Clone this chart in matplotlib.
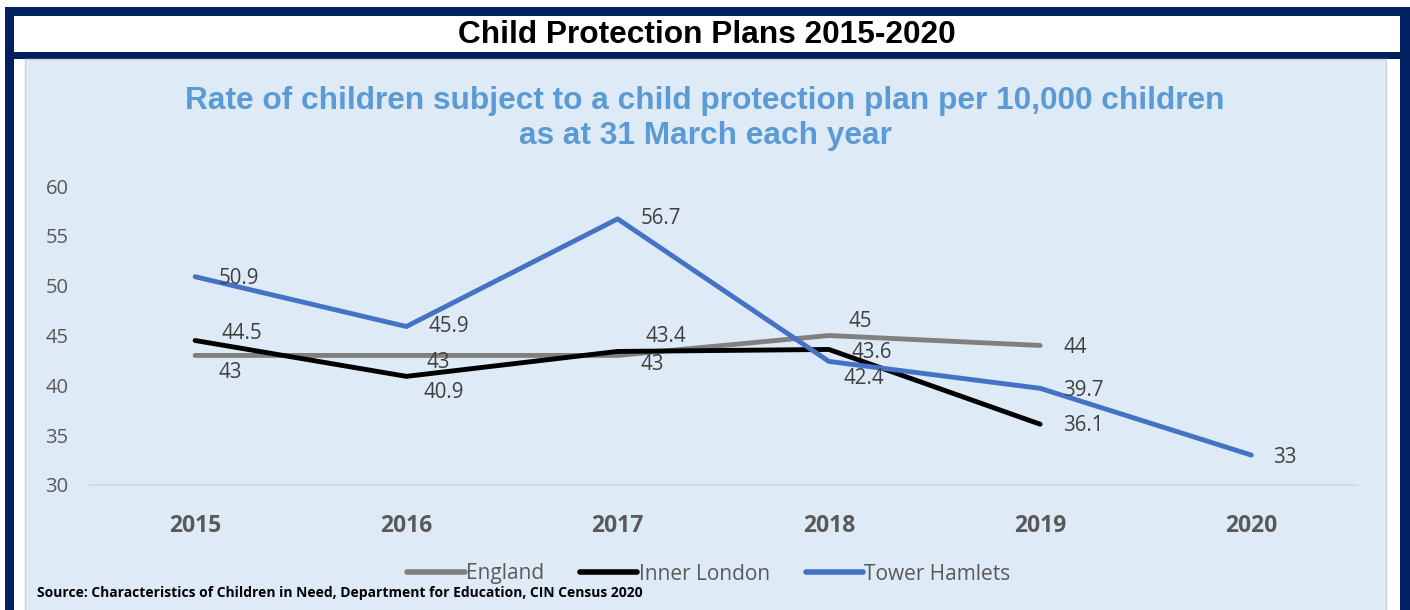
import matplotlib
matplotlib.use("Agg")
import matplotlib.pyplot as plt
from matplotlib.patches import Rectangle

# ---- data ----
years = ["2015", "2016", "2017", "2018", "2019", "2020"]
england = [43, 43, 43, 45, 44, None]
inner_london = [44.5, 40.9, 43.4, 43.6, 36.1, None]
tower_hamlets = [50.9, 45.9, 56.7, 42.4, 39.7, 33]
series_names = ["England", "Inner London", "Tower Hamlets"]
y_ticks = [30, 35, 40, 45, 50, 55, 60]

title = "Child Protection Plans 2015-2020"
subtitle_1 = "Rate of children subject to a child protection plan per 10,000 children"
subtitle_2 = "as at 31 March each year"
source = "Source: Characteristics of Children in Need, Department for Education, CIN Census 2020"

# ---- styles ----
W, H = 1410, 610
NAVY = "#002060"
PANEL = "#DEEAF6"
C_ENG = "#808080"
C_IL = "#000000"
C_TH = "#4472C4"
LBL = "#404040"
TICK = "#595959"
FONT = "Open Sans"

fig = plt.figure(figsize=(W / 100, H / 100), dpi=100)
fig.patch.set_facecolor("white")


def px_rect(x0, y0, x1, y1, **kw):
    r = Rectangle((x0 / W, 1 - y1 / H), (x1 - x0) / W, (y1 - y0) / H,
                  transform=fig.transFigure, **kw)
    fig.add_artist(r)


# frames
px_rect(5, 7, 1415, 620, facecolor=NAVY, edgecolor="none", zorder=0)
px_rect(14, 16, 1400, 52, facecolor="white", edgecolor="none", zorder=1)
px_rect(14, 59, 1400, 620, facecolor="white", edgecolor="none", zorder=1)
px_rect(25, 59, 1386, 620, facecolor=PANEL, edgecolor="#D0D0D0", linewidth=1.0, zorder=2)

fig.text(707 / W, 1 - 35 / H, title, ha="center", va="center", fontsize=22.8,
         fontweight="bold", family="Liberation Sans", color="black", zorder=5)
fig.text(705 / W, 1 - 101 / H, subtitle_1, ha="center", va="center", fontsize=22.8,
         fontweight="bold", family="Liberation Sans", color="#5B9BD5", zorder=5)
fig.text(705 / W, 1 - 136 / H, subtitle_2, ha="center", va="center", fontsize=22.8,
         fontweight="bold", family="Liberation Sans", color="#5B9BD5", zorder=5)
fig.text(37 / W, 1 - 593 / H, source, ha="left", va="center", fontsize=10,
         fontweight="bold", family=FONT, color="black", zorder=5)

# axes
left, right, bottom, top = 89.5, 1357, 485, 186
ax = fig.add_axes([left / W, 1 - bottom / H, (right - left) / W, (bottom - top) / H])
ax.set_zorder(4)
ax.patch.set_visible(False)

x = list(range(len(years)))


def plot_series(vals, color, name):
    xs = [i for i, v in zip(x, vals) if v is not None]
    ys = [v for v in vals if v is not None]
    ax.plot(xs, ys, color=color, lw=3.5, solid_capstyle="round",
            solid_joinstyle="round", label=name)


plot_series(england, C_ENG, series_names[0])
plot_series(inner_london, C_IL, series_names[1])
plot_series(tower_hamlets, C_TH, series_names[2])

ax.set_xlim(-0.5, len(years) - 0.5)
ax.set_ylim(30, 60)
ax.set_yticks(y_ticks)
ax.set_xticks(x)
ax.set_xticklabels(years, fontweight="bold", fontsize=16.5, family=FONT, color=TICK)
for t in ax.get_yticklabels():
    t.set_fontsize(14.5)
    t.set_family(FONT)
    t.set_color(TICK)
ax.tick_params(axis="both", length=0)
ax.tick_params(axis="y", pad=15)
ax.tick_params(axis="x", pad=21)
for s in ["top", "right", "left"]:
    ax.spines[s].set_visible(False)
ax.spines["bottom"].set_color("#D9D9D9")
ax.spines["bottom"].set_linewidth(1.3)

# data label offsets in pixels (dx, dy up)
eng_off = [(23, -17), (20, -7), (23, -9), (20, 14), (23, -2), None]
il_off = [(26, 7), (17, -16), (28, 15), (23, -3), (23, -1), None]
th_off = [(23, -2), (22, 0), (23, 0), (15, -17), (23, -2), (22, -2)]


def labels(vals, offs):
    for i, (v, o) in enumerate(zip(vals, offs)):
        if v is None:
            continue
        ax.annotate(f"{v:g}", (i, v), xytext=o, textcoords="offset pixels",
                    ha="left", va="center", fontsize=14.8, family=FONT, color=LBL)


labels(england, eng_off)
labels(inner_london, il_off)
labels(tower_hamlets, th_off)

leg = fig.legend(loc="center", bbox_to_anchor=(709 / W, 1 - 574 / H), ncol=3,
                 frameon=False, handlelength=2.75, handletextpad=0.05,
                 columnspacing=1.75, prop={"family": FONT, "size": 15})
for t in leg.get_texts():
    t.set_color(TICK)
for l in leg.get_lines():
    l.set_linewidth(4)
leg.set_zorder(6)

fig.savefig("out.png", dpi=100, facecolor="white")
